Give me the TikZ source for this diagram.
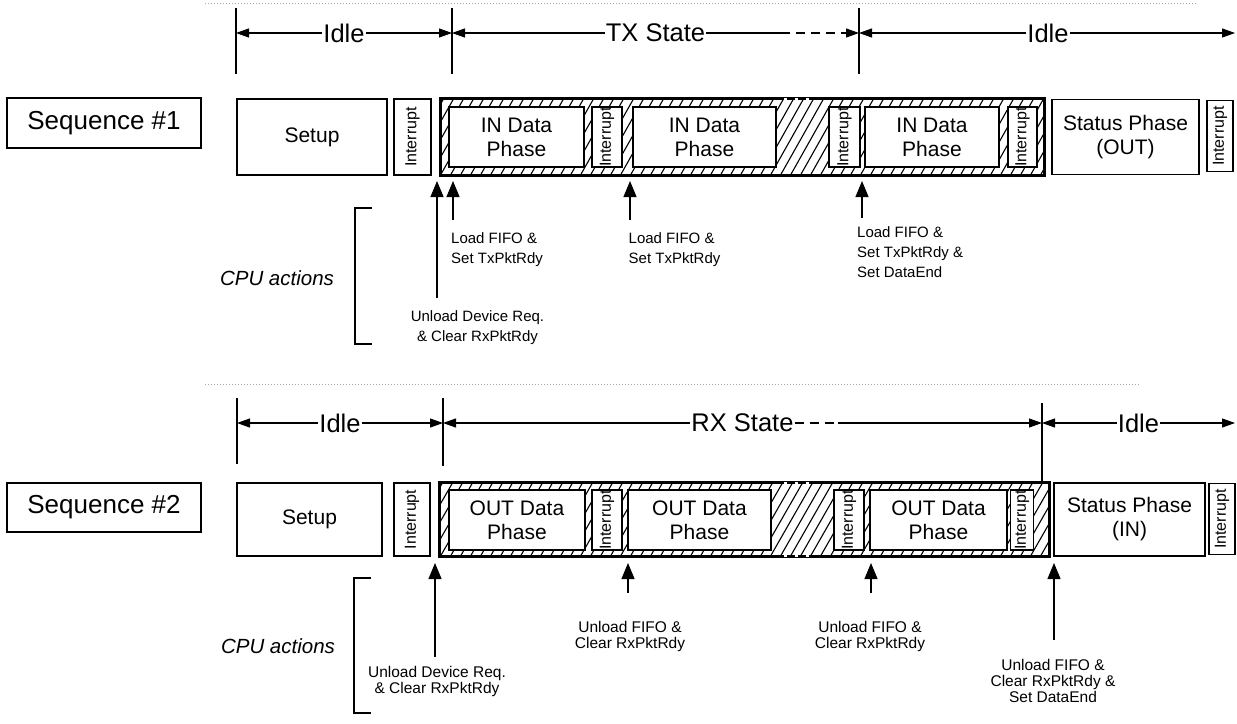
\documentclass[tikz,border=0pt]{standalone}
\usepackage{fontspec}
\setmainfont{Liberation Sans}
\usepackage{graphicx}
\usetikzlibrary{arrows.meta}
\begin{document}
\begin{tikzpicture}[x=1pt,y=-1pt,
  box/.style={draw, line width=1.8pt, fill=white, inner sep=0pt, align=center, font=\fontsize{21}{24}\selectfont},
  intr/.style={draw, line width=1.8pt, fill=white, inner sep=0pt, font=\fontsize{16}{16}\selectfont},
  hatchbox/.style={draw, line width=1.8pt, inner sep=0pt},
  seqbox/.style={draw, line width=2.6pt, inner sep=0pt, font=\fontsize{26}{30}\selectfont},
  statelbl/.style={inner sep=1pt, font=\fontsize{25.5}{28}\selectfont},
  tick/.style={line width=1.1pt},
  dim/.style={line width=1.1pt},
  dimtip/.style={-{Triangle[length=13pt,width=9pt]}},
  cpu/.style={font=\itshape\fontsize{20.5}{24}\selectfont, inner sep=0pt},
  noteA/.style={font=\fontsize{15}{20}\selectfont, inner sep=0pt},
  noteB/.style={font=\fontsize{15.5}{16}\selectfont, inner sep=0pt, align=center},
  evarrow/.style={line width=1.1pt, -{Triangle[length=16pt,width=13pt]}},
  bracket/.style={line width=1.6pt},
  sepline/.style={gray!70, line width=0.8pt, dash pattern=on 1pt off 2pt},
  hatch/.style={line width=1.1pt},
  gapdash/.style={white, line width=2pt, dash pattern=on 3pt off 8pt}
]
\useasboundingbox (0,0) rectangle (1237,723);

% ---------------- separators
\draw[sepline] (205,3) -- (1197,3);
\draw[sepline] (205,384) -- (1140,384);

% ================= SEQUENCE 1 =================
\node[seqbox, minimum width=194, minimum height=50] (seq1) at (104,123) {Sequence \#1};

% state dimension line
\coordinate (tA1) at (236,33);
\coordinate (tA2) at (452,33);
\coordinate (tA3) at (859,33);
\coordinate (tA4) at (1235,33);
\coordinate (dA1) at (781,33);
\coordinate (dA2) at (847,33);
\draw[tick] (236,8) -- (236,74);
\draw[tick] (452,8) -- (452,74);
\draw[tick] (859,8) -- (859,74);
\node[statelbl] (idleA1) at (344,33) {Idle};
\node[statelbl] (txA) at (655.5,33) {TX State};
\node[statelbl] (idleA2) at (1048,33) {Idle};
\draw[dim,dimtip] (idleA1.west) -- (tA1);
\draw[dim,dimtip] (idleA1.east) -- (tA2);
\draw[dim,dimtip] (txA.west) -- (tA2);
\draw[dim] (txA.east) -- (dA1);
\draw[dim, dash pattern=on 9pt off 6pt] (dA1) -- (dA2);
\draw[dim,dimtip] (dA2) -- (tA3);
\draw[dim,dimtip] (idleA2.west) -- (tA3);
\draw[dim,dimtip] (idleA2.east) -- (tA4);

% boxes
\node[box, minimum width=150, minimum height=76] (setupA) at (312,137) {Setup};
\node[intr, minimum width=37, minimum height=76] (intA0) at (412.5,137) {\rotatebox{90}{Interrupt}};
\node[hatchbox, fill=white, minimum width=603, minimum height=76] (hatchA) at (742.5,137) {};
\begin{scope}
  \clip (441,99) rectangle (1044,175);
  \foreach \k in {0,...,65} \draw[hatch] ({400+\k*10},176) -- ++(44,-78);
\end{scope}
\draw[line width=1.8pt] (hatchA.north west) rectangle (hatchA.south east);
\draw[gapdash] (784,99) -- (816,99);
\node[box, minimum width=135, minimum height=60] (inA1) at (516.5,137) {IN Data\\Phase};
\node[intr, minimum width=30, minimum height=60] (intA1) at (607,137) {\rotatebox{90}{Interrupt}};
\node[box, minimum width=143, minimum height=60] (inA2) at (704.5,137) {IN Data\\Phase};
\node[intr, minimum width=31, minimum height=60] (intA2) at (844.5,137) {\rotatebox{90}{Interrupt}};
\node[box, minimum width=134, minimum height=60] (inA3) at (932,137) {IN Data\\Phase};
\node[intr, minimum width=29, minimum height=60] (intA3) at (1022.5,137) {\rotatebox{90}{Interrupt}};
\node[box, minimum width=147, minimum height=75] (statusA) at (1125.5,137) {Status Phase\\(OUT)};
\node[intr, minimum width=26, minimum height=71] (intA4) at (1220,136) {\rotatebox{90}{Interrupt}};

% CPU actions
\node[cpu] (cpuA) at (277,278) {CPU actions};
\draw[bracket] (372,208) -- (355,208) -- (355,344) -- (372,344);

\node[noteA, align=center] (nA1) at (477.5,328) {Unload Device Req.\\\& Clear RxPktRdy};
\node[noteA, align=left, anchor=west] (nA2) at (451,250) {Load FIFO \&\\Set TxPktRdy};
\node[noteA, align=left, anchor=west] (nA3) at (628.5,250) {Load FIFO \&\\Set TxPktRdy};
\node[noteA, align=left, anchor=west] (nA4) at (857,252) {Load FIFO \&\\Set TxPktRdy \&\\Set DataEnd};

\coordinate (bA1) at (437,298); \coordinate (hA1) at (437,181);
\coordinate (bA2) at (453,220); \coordinate (hA2) at (453,181);
\coordinate (bA3) at (630,220); \coordinate (hA3) at (630,181);
\coordinate (bA4) at (862,218); \coordinate (hA4) at (862,181);
\draw[evarrow] (bA1) -- (hA1);
\draw[evarrow] (bA2) -- (hA2);
\draw[evarrow] (bA3) -- (hA3);
\draw[evarrow] (bA4) -- (hA4);

% ================= SEQUENCE 2 =================
\node[seqbox, minimum width=194, minimum height=49] (seq2) at (104,507.5) {Sequence \#2};

\coordinate (tB1) at (237,423);
\coordinate (tB2) at (443,423);
\coordinate (tB3) at (1042,423);
\coordinate (tB4) at (1235,423);
\coordinate (dB1) at (838,423);
\draw[tick] (237,398) -- (237,464);
\draw[tick] (443,398) -- (443,466);
\draw[tick] (1042,403) -- (1042,482);
\node[statelbl] (idleB1) at (340,423) {Idle};
\node[statelbl] (rxB) at (742.5,423) {RX State};
\node[statelbl] (idleB2) at (1138.5,423) {Idle};
\draw[dim,dimtip] (idleB1.west) -- (tB1);
\draw[dim,dimtip] (idleB1.east) -- (tB2);
\draw[dim,dimtip] (rxB.west) -- (tB2);
\draw[dim, dash pattern=on 9pt off 6pt] (rxB.east) -- (dB1);
\draw[dim,dimtip] (dB1) -- (tB3);
\draw[dim,dimtip] (idleB2.west) -- (tB3);
\draw[dim,dimtip] (idleB2.east) -- (tB4);

\node[box, minimum width=145, minimum height=73] (setupB) at (309.5,519.5) {Setup};
\node[intr, minimum width=36, minimum height=73] (intB0) at (412,519.5) {\rotatebox{90}{Interrupt}};
\node[hatchbox, fill=white, minimum width=609, minimum height=73] (hatchB) at (744.5,519.5) {};
\begin{scope}
  \clip (440,483) rectangle (1049,556);
  \foreach \k in {0,...,66} \draw[hatch] ({400+\k*10},557) -- ++(43,-75);
\end{scope}
\draw[line width=1.8pt] (hatchB.north west) rectangle (hatchB.south east);
\draw[gapdash] (784,483) -- (816,483);
\draw[gapdash] (784,556) -- (816,556);
\node[box, minimum width=136, minimum height=60] (outB1) at (517,520) {OUT Data\\Phase};
\node[intr, minimum width=30, minimum height=60] (intB1) at (607,520) {\rotatebox{90}{Interrupt}};
\node[box, minimum width=143, minimum height=60] (outB2) at (699.5,520) {OUT Data\\Phase};
\node[intr, minimum width=30, minimum height=60] (intB2) at (849,520) {\rotatebox{90}{Interrupt}};
\node[box, minimum width=137, minimum height=60] (outB3) at (938.5,520) {OUT Data\\Phase};
\node[intr, minimum width=23, minimum height=60] (intB3) at (1022,520) {\rotatebox{90}{Interrupt}};
\node[box, minimum width=151, minimum height=73] (statusB) at (1129.5,519.5) {Status Phase\\(IN)};
\node[intr, minimum width=26, minimum height=71] (intB4) at (1222,519) {\rotatebox{90}{Interrupt}};

\node[cpu] (cpuB) at (278,646) {CPU actions};
\draw[bracket] (371,578) -- (354,578) -- (354,713) -- (371,713);

\node[noteB] (nB1) at (437,681) {Unload Device Req.\\\& Clear RxPktRdy};
\node[noteB] (nB2) at (630,636) {Unload FIFO \&\\Clear RxPktRdy};
\node[noteB] (nB3) at (870,636) {Unload FIFO \&\\Clear RxPktRdy};
\node[noteB] (nB4) at (1053,681) {Unload FIFO \&\\Clear RxPktRdy \&\\Set DataEnd};

\coordinate (bB1) at (435,657); \coordinate (hB1) at (435,563);
\coordinate (bB2) at (628,593); \coordinate (hB2) at (628,563);
\coordinate (bB3) at (871,593); \coordinate (hB3) at (871,563);
\coordinate (bB4) at (1054,640); \coordinate (hB4) at (1054,563);
\draw[evarrow] (bB1) -- (hB1);
\draw[evarrow] (bB2) -- (hB2);
\draw[evarrow] (bB3) -- (hB3);
\draw[evarrow] (bB4) -- (hB4);

\end{tikzpicture}
\end{document}
